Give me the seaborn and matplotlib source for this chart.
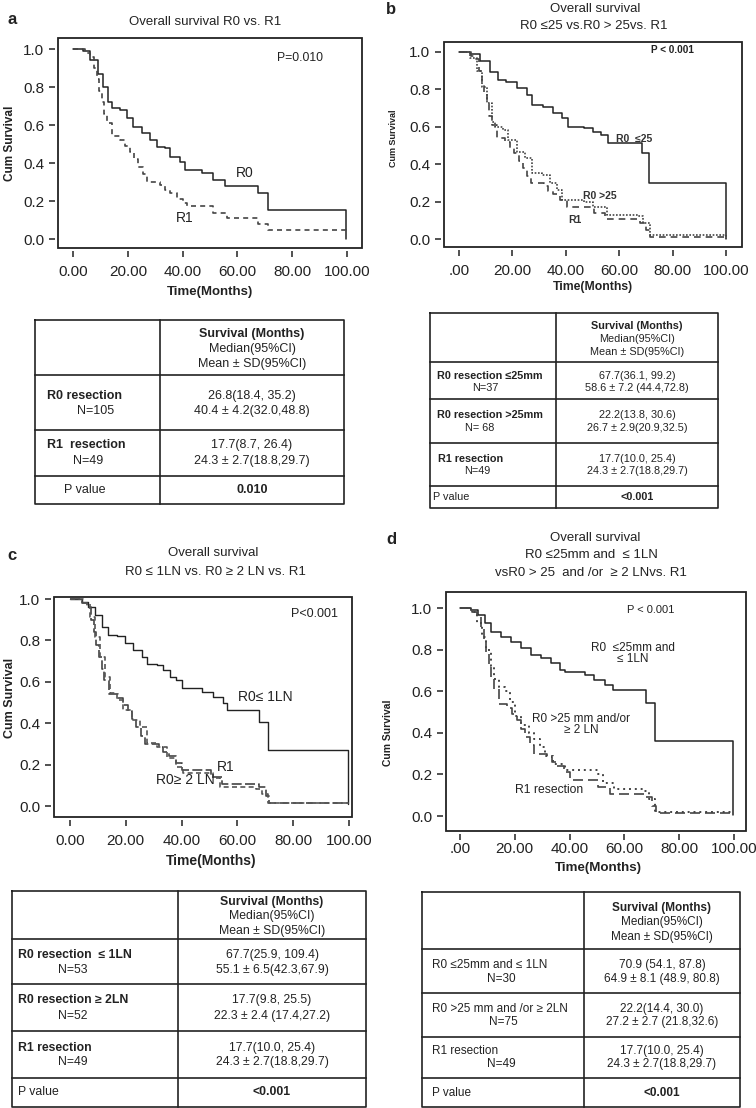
import matplotlib
matplotlib.use('Agg')
import matplotlib.pyplot as plt
from matplotlib.patches import Rectangle
import seaborn as sns

W, H = 756, 1108

# ---- survival curves, (time in months, cum survival) ----
A_R0_T = [0, 3.8, 6.2, 9.2, 11.1, 12.9, 14.1, 17.2, 19.6, 22.0, 25.0, 28.1, 30.5, 33.6,
          35.4, 39.0, 40.9, 47.0, 51.2, 55.5, 67.6, 71.3, 99.5]
A_R0_S = [1.0, 0.99, 0.94, 0.87, 0.80, 0.72, 0.69, 0.68, 0.635, 0.59, 0.556, 0.52, 0.486, 0.48,
          0.433, 0.407, 0.363, 0.346, 0.31, 0.279, 0.24, 0.153, 0.0]
A_R1_T = [0, 4.5, 6.2, 7.5, 8.6, 9.5, 10.5, 11.4, 12.3, 14.1, 17.2, 19.0, 20.8, 22.3, 23.8,
          25.4, 26.9, 31.8, 33.5, 35.4, 38.0, 40.3, 41.5, 51.2, 56.1, 67.6, 71.3, 99.5]
A_R1_S = [1.0, 0.98, 0.96, 0.90, 0.84, 0.78, 0.72, 0.66, 0.61, 0.54, 0.52, 0.49, 0.46, 0.42, 0.38,
          0.34, 0.30, 0.285, 0.26, 0.24, 0.21, 0.19, 0.175, 0.138, 0.109, 0.08, 0.047, 0.045]

R1_T = [0, 4.5, 6.2, 7.5, 8.6, 9.5, 10.5, 11.4, 12.3, 14.1, 17.2, 19.0, 20.8, 22.3, 23.8,
        25.4, 26.9, 31.8, 33.5, 35.4, 38.0, 40.3, 50.5, 54.6, 67.7, 70.2, 71.5, 100]
R1_S = [1.0, 0.98, 0.96, 0.90, 0.84, 0.78, 0.72, 0.66, 0.61, 0.54, 0.52, 0.49, 0.46, 0.42, 0.38,
        0.34, 0.30, 0.285, 0.26, 0.24, 0.21, 0.175, 0.14, 0.107, 0.09, 0.05, 0.015, 0.015]

B_R0A_T = [0, 4.1, 7.9, 11.6, 14.7, 17.8, 21.6, 25.4, 27.2, 31.6, 35.3, 38.5, 41.0, 46.8,
           50.3, 53.3, 55.9, 68.4, 71.3, 100]
B_R0A_S = [1.0, 0.99, 0.95, 0.895, 0.85, 0.84, 0.806, 0.77, 0.717, 0.708, 0.673, 0.646, 0.60, 0.594,
           0.575, 0.557, 0.516, 0.46, 0.303, 0.005]
B_R0B_T = [0, 4.1, 6.6, 8.5, 10.4, 12.2, 13.5, 16.6, 18.5, 21.6, 24.7, 27.2, 31.0, 34.1, 36.6,
           38.5, 46.8, 50.3, 55.3, 67.0, 68.9, 71.5, 100]
B_R0B_S = [1.0, 0.97, 0.90, 0.815, 0.726, 0.628, 0.60, 0.584, 0.53, 0.468, 0.433, 0.353, 0.345, 0.30, 0.264,
           0.21, 0.20, 0.175, 0.13, 0.125, 0.09, 0.024, 0.005]

C_R0A_T = [0, 4.2, 6.6, 9.0, 11.4, 13.7, 16.7, 19.7, 22.7, 25.7, 27.5, 31.1, 33.4, 35.8, 38.2,
           40.0, 47.2, 51.4, 55.0, 56.2, 67.9, 71.1, 99.5]
C_R0A_S = [1.0, 0.987, 0.963, 0.923, 0.866, 0.826, 0.82, 0.786, 0.754, 0.721, 0.686, 0.68, 0.657, 0.625, 0.609,
           0.569, 0.552, 0.528, 0.496, 0.464, 0.407, 0.27, 0.01]
C_R0B_T = [0, 4.8, 7.2, 9.0, 10.8, 12.5, 14.3, 16.7, 19.1, 22.1, 25.1, 27.5, 31.1, 34.7, 38.2,
           40.6, 51.4, 53.8, 66.7, 69.0, 71.1, 99.5]
C_R0B_S = [1.0, 0.98, 0.915, 0.818, 0.72, 0.625, 0.544, 0.512, 0.464, 0.415, 0.383, 0.303, 0.287, 0.23, 0.19,
           0.158, 0.134, 0.093, 0.08, 0.06, 0.015, 0.015]

D_R0A_T = [0, 4.1, 6.6, 9.0, 11.4, 15.1, 18.7, 22.4, 26.0, 29.7, 33.3, 36.4, 38.2, 45.5, 49.1,
           52.8, 55.8, 67.8, 71.2, 99.5]
D_R0A_S = [1.0, 0.99, 0.966, 0.926, 0.886, 0.862, 0.838, 0.806, 0.774, 0.758, 0.734, 0.702, 0.69, 0.68, 0.655,
           0.63, 0.605, 0.545, 0.36, 0.005]
D_R0B_T = [0, 4.2, 6.1, 7.9, 9.6, 11.2, 12.6, 14.1, 16.3, 18.2, 20.1, 22.3, 25.2, 27.1, 29.3,
           31.2, 34.0, 38.3, 50.2, 52.1, 56.3, 67.2, 69.1, 71.2, 99.5]
D_R0B_S = [1.0, 0.98, 0.93, 0.86, 0.80, 0.72, 0.66, 0.62, 0.60, 0.55, 0.48, 0.44, 0.40, 0.37, 0.33,
           0.29, 0.25, 0.22, 0.20, 0.16, 0.13, 0.12, 0.08, 0.02, 0.02]

X_TICKS = [0, 20, 40, 60, 80, 100]
X_LABELS_AC = ['0.00', '20.00', '40.00', '60.00', '80.00', '100.00']
X_LABELS_BD = ['.00', '20.00', '40.00', '60.00', '80.00', '100.00']
Y_TICKS = [0.0, 0.2, 0.4, 0.6, 0.8, 1.0]
Y_LABELS = ['0.0', '0.2', '0.4', '0.6', '0.8', '1.0']

# ---- table contents ----
TAB_HEAD = ['Survival (Months)', 'Median(95%CI)', 'Mean \u00b1 SD(95%CI)']

A_GROUPS = ['R0 resection', 'R1  resection']
A_NS = ['N=105', 'N=49']
A_MEDIAN = ['26.8(18.4, 35.2)', '17.7(8.7, 26.4)']
A_MEAN = ['40.4 \u00b1 4.2(32.0,48.8)', '24.3 \u00b1 2.7(18.8,29.7)']
A_P = '0.010'

B_GROUPS = ['R0 resection \u226425mm', 'R0 resection >25mm', 'R1 resection']
B_NS = ['N=37', 'N= 68', 'N=49']
B_MEDIAN = ['67.7(36.1, 99.2)', '22.2(13.8, 30.6)', '17.7(10.0, 25.4)']
B_MEAN = ['58.6 \u00b1 7.2 (44.4,72.8)', '26.7 \u00b1 2.9(20.9,32.5)', '24.3 \u00b1 2.7(18.8,29.7)']
B_P = '<0.001'

C_GROUPS = ['R0 resection  \u2264 1LN', 'R0 resection \u2265 2LN', 'R1 resection']
C_NS = ['N=53', 'N=52', 'N=49']
C_MEDIAN = ['67.7(25.9, 109.4)', '17.7(9.8, 25.5)', '17.7(10.0, 25.4)']
C_MEAN = ['55.1 \u00b1 6.5(42.3,67.9)', '22.3 \u00b1 2.4 (17.4,27.2)', '24.3 \u00b1 2.7(18.8,29.7)']
C_P = '<0.001'

D_GROUPS = ['R0 \u226425mm and \u2264 1LN', 'R0 >25 mm and /or \u2265 2LN', 'R1 resection']
D_NS = ['N=30', 'N=75', 'N=49']
D_MEDIAN = ['70.9 (54.1, 87.8)', '22.2(14.4, 30.0)', '17.7(10.0, 25.4)']
D_MEAN = ['64.9 \u00b1 8.1 (48.9, 80.8)', '27.2 \u00b1 2.7 (21.8,32.6)', '24.3 \u00b1 2.7(18.8,29.7)']
D_P = '<0.001'

sns.set_theme(style='ticks')
plt.rcParams['font.family'] = ['Liberation Sans', 'DejaVu Sans']

fig = plt.figure(figsize=(W / 100, H / 100), dpi=100)
fig.patch.set_facecolor('white')


def px_axes(l, t, r, b):
    return fig.add_axes([l / W, 1 - b / H, (r - l) / W, (b - t) / H])


def km_panel(box, xlim, ylim, curves, xlabels, tsize, tweight, xpad=6):
    ax = px_axes(*box)
    for t, s, ls, lw, col in curves:
        sns.lineplot(x=t, y=s, ax=ax, drawstyle='steps-post', estimator=None, sort=False,
                     color=col, linestyle=ls, linewidth=lw, legend=False)
    ax.set_xlim(*xlim)
    ax.set_ylim(*ylim)
    ax.set_xticks(X_TICKS)
    ax.set_xticklabels(xlabels, fontsize=tsize, fontweight=tweight)
    ax.set_yticks(Y_TICKS)
    ax.set_yticklabels(Y_LABELS, fontsize=tsize, fontweight=tweight)
    ax.set_xlabel('')
    ax.set_ylabel('')
    for side in ['left', 'bottom']:
        ax.spines[side].set_position(('outward', 2))
    for sp in ax.spines.values():
        sp.set_color('none')
    ax.tick_params(axis='both', direction='out', length=4, width=1.1, color='#222222',
                   labelcolor='#222222', left=True, bottom=True)
    ax.tick_params(axis='x', pad=xpad)
    ax.tick_params(axis='y', pad=4)
    ax.add_patch(Rectangle((0, 0), 1, 1, transform=ax.transAxes, fill=False,
                           lw=1.3, edgecolor='#222222', clip_on=False, zorder=5))
    return ax


# ---- panel a ----
ax_a = km_panel((58, 38, 362, 248), (-5.5, 105.5), (-0.047, 1.058),
                [(A_R0_T, A_R0_S, '-', 1.1, '#222222'),
                 (A_R1_T, A_R1_S, (0, (3, 2.5)), 1.2, '#444444')],
                X_LABELS_AC, 8.7, 'normal')
ax_a.text(62.8, 0.347, 'R0', fontsize=10, ha='center', va='center', color='#222222')
ax_a.text(40.9, 0.11, 'R1', fontsize=10, ha='center', va='center', color='#222222')
ax_a.text(82.7, 0.954, 'P=0.010', fontsize=8.8, ha='center', va='center', color='#222222')

# ---- panel b ----
ax_b = km_panel((444, 42, 742, 247), (-5.6, 106), (-0.04, 1.053),
                [(B_R0A_T, B_R0A_S, '-', 1.1, '#222222'),
                 (B_R0B_T, B_R0B_S, (0, (1, 1)), 1.2, '#444444'),
                 (R1_T, R1_S, (0, (4, 3)), 1.2, '#444444')],
                X_LABELS_BD, 8.5, 'bold')
ax_b.text(65.5, 0.536, 'R0  \u226425', fontsize=7.5, fontweight='bold', ha='center', va='center', color='#333333')
ax_b.text(52.8, 0.231, 'R0 >25', fontsize=7.5, fontweight='bold', ha='center', va='center', color='#333333')
ax_b.text(43.4, 0.104, 'R1', fontsize=7.5, fontweight='bold', ha='center', va='center', color='#333333')
ax_b.text(79.8, 1.01, 'P < 0.001', fontsize=7.2, fontweight='bold', ha='center', va='center', color='#222222')

# ---- panel c ----
ax_c = km_panel((54, 597, 352, 817), (-5.7, 101.1), (-0.053, 1.01),
                [(C_R0A_T, C_R0A_S, '-', 1.0, '#222222'),
                 (R1_T, R1_S, (0, (6, 2)), 1.2, '#444444'),
                 (C_R0B_T, C_R0B_S, (0, (3, 2)), 1.2, '#555555')],
                X_LABELS_AC, 9, 'normal')
ax_c.text(70.2, 0.528, 'R0\u2264 1LN', fontsize=10, ha='center', va='center', color='#222222')
ax_c.text(55.9, 0.188, 'R1', fontsize=10, ha='center', va='center', color='#222222')
ax_c.text(41.5, 0.126, 'R0\u2265 2 LN', fontsize=10, ha='center', va='center', color='#222222')
ax_c.text(87.8, 0.928, 'P<0.001', fontsize=9, ha='center', va='center', color='#222222')

# ---- panel d ----
ax_d = km_panel((446, 592, 746, 831), (-5.1, 104.4), (-0.072, 1.077),
                [(D_R0A_T, D_R0A_S, '-', 1.1, '#222222'),
                 (D_R0B_T, D_R0B_S, (0, (1, 2)), 1.4, '#444444'),
                 (R1_T, R1_S, (0, (6, 3)), 1.2, '#444444')],
                X_LABELS_BD, 9.5, 'normal', xpad=2)
ax_d.text(63.1, 0.78, 'R0  \u226425mm and\n\u2264 1LN', fontsize=8.5, ha='center', va='center',
          color='#222222', linespacing=0.9)
ax_d.text(44.2, 0.44, 'R0 >25 mm and/or\n\u2265 2 LN', fontsize=8.5, ha='center', va='center',
          color='#222222', linespacing=0.9)
ax_d.text(32.4, 0.125, 'R1 resection', fontsize=8.7, ha='center', va='center', color='#222222')
ax_d.text(69.6, 0.99, 'P < 0.001', fontsize=8, ha='center', va='center', color='#222222')

# ---- page overlay for titles, axis names and tables (pixel coordinates) ----
page = fig.add_axes([0, 0, 1, 1])
page.set_xlim(0, W)
page.set_ylim(H, 0)
page.axis('off')


def txt(x, y, s, size, weight='normal', ha='center', rot=0):
    page.text(x, y, s, fontsize=size, fontweight=weight, ha=ha, va='center',
              rotation=rot, color='#222222')


txt(12, 20, 'a', 12, 'bold')
txt(205, 22, 'Overall survival R0 vs. R1', 9.5)
txt(10, 143, 'Cum Survival', 8.5, 'bold', rot=90)
txt(210, 292, 'Time(Months)', 9.5, 'bold')

txt(391, 10, 'b', 12, 'bold')
txt(595, 9, 'Overall survival', 9.5)
txt(594, 26, 'R0 \u226425 vs.R0 > 25vs. R1', 9.5)
txt(394, 138, 'Cum Survival', 6.5, 'bold', rot=90)
txt(593, 287, 'Time(Months)', 8.8, 'bold')

txt(12, 555, 'c', 12, 'bold')
txt(213, 553, 'Overall survival', 9.5)
txt(215, 572, 'R0 \u2264 1LN vs. R0 \u2265 2 LN vs. R1', 9.5)
txt(10, 698, 'Cum Survival', 9, 'bold', rot=90)
txt(211, 861, 'Time(Months)', 10, 'bold')

txt(391, 540, 'd', 12, 'bold')
txt(595, 538, 'Overall survival', 9.5)
txt(591, 555, 'R0 \u226425mm and  \u2264 1LN', 9.5)
txt(591, 573, 'vsR0 > 25  and /or  \u2265 2 LNvs. R1', 9.5)
txt(388, 733, 'Cum Survival', 7.5, 'bold', rot=90)
txt(598, 868, 'Time(Months)', 9.6, 'bold')


def draw_table(left, right, mid, edges, head_y, row_y, groups, g_pos, g_bold, ns, n_x,
               medians, means, p_text, p_pos, size):
    kw = dict(color='#222222', lw=1.2, solid_capstyle='projecting')
    top, bottom = edges[0], edges[-1]
    page.plot([left, right, right, left, left], [top, top, bottom, bottom, top], **kw)
    page.plot([mid, mid], [top, bottom], **kw)
    for y in edges[1:-1]:
        page.plot([left, right], [y, y], **kw)
    vx = (mid + right) / 2
    txt(vx, head_y[0], TAB_HEAD[0], size, 'bold')
    txt(vx, head_y[1], TAB_HEAD[1], size)
    txt(vx, head_y[2], TAB_HEAD[2], size)
    for i, g in enumerate(groups):
        y1, y2 = row_y[i]
        gx, gha = g_pos[i]
        txt(gx, y1, g, size, 'bold' if g_bold else 'normal', ha=gha)
        txt(n_x[i], y2, ns[i], size)
        txt(vx, y1, medians[i], size)
        txt(vx, y2, means[i], size)
    px, pha = p_pos
    txt(px, row_y[-1][0], 'P value', size, ha=pha)
    txt(vx, row_y[-1][0], p_text, size, 'bold')


draw_table(35, 344, 160, [320, 375, 430, 476, 504], [334, 349, 364],
           [(396, 411), (445, 461), (490, 490)], A_GROUPS, [(47, 'left'), (47, 'left')], True,
           A_NS, [96, 88], A_MEDIAN, A_MEAN, A_P, (85, 'center'), 9.0)

draw_table(430, 718, 556, [313, 362, 399, 443, 486, 508], [326, 339, 352],
           [(376, 388), (415, 428), (459, 471), (497, 497)], B_GROUPS,
           [(490, 'center'), (490, 'center'), (438, 'left')], True,
           B_NS, [485, 480, 477], B_MEDIAN, B_MEAN, B_P, (433, 'left'), 7.8)

draw_table(12, 366, 178, [891, 939, 984, 1031, 1078, 1107], [902, 916, 931],
           [(955, 970), (1000, 1016), (1048, 1062), (1092, 1092)], C_GROUPS,
           [(18, 'left'), (18, 'left'), (18, 'left')], True,
           C_NS, [73, 73, 73], C_MEDIAN, C_MEAN, C_P, (18, 'left'), 8.8)

draw_table(422, 740, 584, [892, 949, 993, 1037, 1078, 1107], [908, 922, 937],
           [(965, 979), (1009, 1022), (1051, 1064), (1093, 1093)], D_GROUPS,
           [(432, 'left'), (432, 'left'), (432, 'left')], False,
           D_NS, [501, 503, 501], D_MEDIAN, D_MEAN, D_P, (432, 'left'), 8.5)

fig.savefig('out.png', dpi=100, facecolor='white')
